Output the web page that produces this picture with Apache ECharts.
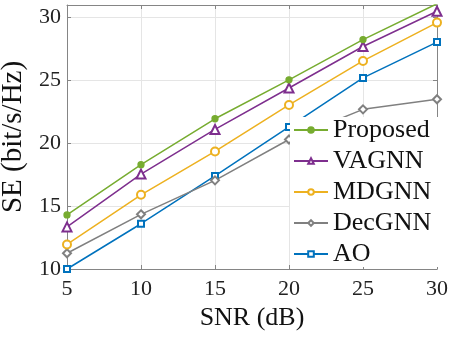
<!DOCTYPE html>
<html>
<head>
<meta charset="utf-8">
<script src="https://cdn.jsdelivr.net/npm/echarts@6/dist/echarts.min.js"></script>
<style>
  html, body { margin: 0; padding: 0; background: #fff; }
  #main { width: 449px; height: 339px; }
</style>
</head>
<body>
<div id="main"></div>
<script>
// SNR values (dB)
const snr = [5, 10, 15, 20, 25, 30];
// spectral efficiency per method
const proposed = [14.3, 18.3, 21.95, 25.05, 28.25, 31.1];
const vagnn = [13.35, 17.55, 21.1, 24.4, 27.7, 30.5];
const mdgnn = [11.95, 15.9, 19.35, 23.05, 26.55, 29.6];
const decgnn = [11.25, 14.35, 17.05, 20.3, 22.7, 23.5];
const ao = [10.0, 13.6, 17.4, 21.3, 25.2, 28.05];

const font = "Liberation Serif";
const chart = echarts.init(document.getElementById('main'));

function pairs(ys) {
  return snr.map((x, i) => [x, ys[i]]);
}

function line(name, ys, color, symbol, size) {
  return {
    name: name,
    type: 'line',
    data: pairs(ys),
    symbol: symbol,
    symbolSize: size,
    showSymbol: true,
    color: color,
    lineStyle: { width: 1.5, color: color },
    itemStyle: { color: color, borderColor: color, borderWidth: 1.3 },
    emphasis: { disabled: true },
    animation: false
  };
}

const gridLine = { show: true, lineStyle: { color: '#e5e5e5', width: 1 } };
const axisLine = { show: true, lineStyle: { color: '#858585', width: 1 } };

chart.setOption({
  animation: false,
  grid: { left: 67, right: 12, top: 5, bottom: 70, containLabel: false, outerBoundsMode: 'none' },
  legend: {
    orient: 'vertical',
    left: 290,
    top: 117,
    padding: [0, 10, 0, 3],
    backgroundColor: '#fff',
    itemWidth: 34,
    itemHeight: 7,
    itemGap: 5,
    textStyle: { fontFamily: font, fontSize: 26, color: '#111', lineHeight: 26 },
    data: ['Proposed', 'VAGNN', 'MDGNN', 'DecGNN', 'AO']
  },
  xAxis: [{
    type: 'value',
    min: 5, max: 30, interval: 5,
    name: 'SNR (dB)',
    nameLocation: 'middle',
    nameGap: 36,
    nameTextStyle: { fontFamily: font, fontSize: 26, color: '#111' },
    axisLine: axisLine,
    axisTick: { show: true, inside: true, length: 4, lineStyle: { color: '#858585' } },
    axisLabel: { fontFamily: font, fontSize: 22, color: '#222', margin: 9 },
    splitLine: gridLine
  }, {
    type: 'value', position: 'top',
    min: 5, max: 30, interval: 5,
    axisLine: axisLine,
    axisTick: { show: true, inside: true, length: 4, lineStyle: { color: '#858585' } },
    axisLabel: { show: false },
    splitLine: { show: false }
  }],
  yAxis: [{
    type: 'value',
    min: 10, max: 31, interval: 5,
    name: 'SE (bit/s/Hz)',
    nameLocation: 'middle',
    nameGap: 38,
    nameTextStyle: { fontFamily: font, fontSize: 29, color: '#111' },
    axisLine: axisLine,
    axisTick: { show: true, inside: true, length: 4, lineStyle: { color: '#858585' } },
    axisLabel: { fontFamily: font, fontSize: 22, color: '#222', margin: 6, showMaxLabel: false },
    splitLine: gridLine
  }, {
    type: 'value', position: 'right',
    min: 10, max: 31, interval: 5,
    axisLine: axisLine,
    axisTick: { show: true, inside: true, length: 4, lineStyle: { color: '#858585' } },
    axisLabel: { show: false },
    splitLine: { show: false }
  }],
  series: [
    line('AO', ao, '#0072BD', 'emptyRect', 6),
    line('DecGNN', decgnn, '#808080', 'emptyDiamond', 8),
    line('MDGNN', mdgnn, '#EDB120', 'emptyCircle', 8),
    line('VAGNN', vagnn, '#7E2F8E', 'emptyTriangle', 9),
    line('Proposed', proposed, '#77AC30', 'circle', 6)
  ]
});
</script>
</body>
</html>
